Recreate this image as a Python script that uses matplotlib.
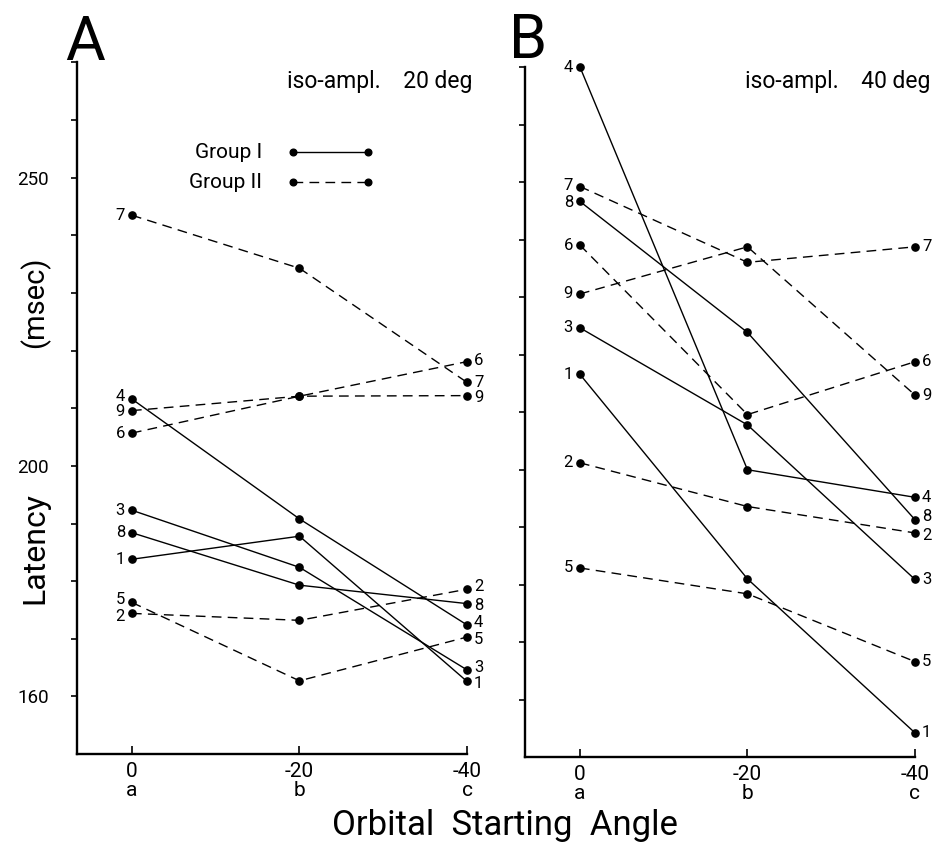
import matplotlib.pyplot as plt

plt.rcParams['font.family'] = ['Roboto', 'DejaVu Sans']

# starting angle (deg) and position code
angle_labels = ['0\na', '-20\nb', '-40\nc']
x_pos = [0, 1, 2]

subjects = ['1', '2', '3', '4', '5', '6', '7', '8', '9']
groups = ['I', 'II', 'I', 'I', 'II', 'II', 'II', 'I', 'II']

# latency (msec) per subject at a, b, c -- iso-amplitude 20 deg
lat_20deg = [
    [183.8, 187.8, 162.6],
    [174.4, 173.2, 178.6],
    [192.3, 182.4, 164.6],
    [211.6, 190.8, 172.4],
    [176.3, 162.7, 170.3],
    [205.7, 212.1, 218.1],
    [243.5, 234.3, 214.5],
    [188.4, 179.3, 176.1],
    [209.6, 212.1, 212.2],
]

# latency (msec) per subject at a, b, c -- iso-amplitude 40 deg
lat_40deg = [
    [216.6, 181.0, 154.2],
    [201.2, 193.6, 189.0],
    [224.7, 207.8, 180.9],
    [270.1, 200.0, 195.2],
    [182.9, 178.4, 166.6],
    [239.1, 209.6, 218.8],
    [249.3, 236.1, 238.8],
    [246.7, 223.9, 191.3],
    [230.6, 238.8, 213.0],
]

y_ticks = [160, 170, 180, 190, 200, 210, 220, 230, 240, 250, 260, 270.1]
y_labeled = [160, 200, 250]

# small vertical nudges (points) for crowded subject numbers: (start, end)
nudge_20deg = {'4': (1.5, 2), '9': (-1, -1), '2': (-2, 2), '5': (2, -2), '6': (0, 1),
               '3': (0, 1.5), '1': (0, -1.5), '8': (0, -1.5)}
nudge_40deg = {'7': (1, 0), '8': (-1, 2), '2': (0, -2)}

W, H = 948, 842
DASH = (0, (7, 4.5))


def fx(px):
    return px / W


def fy(py):
    return 1 - py / H


def draw_panel(ax, lat, nudge, show_ylabels):
    for subj, grp, vals in zip(subjects, groups, lat):
        ls = '-' if grp == 'I' else DASH
        dy0, dy1 = nudge.get(subj, (0, 0))
        ax.plot(x_pos, vals, color='black', lw=1.0, ls=ls, marker='o', ms=5.2, clip_on=False)
        ax.annotate(subj, (x_pos[0], vals[0]), xytext=(-5, dy0), textcoords='offset points',
                    ha='right', va='center', fontsize=12, annotation_clip=False)
        ax.annotate(subj, (x_pos[-1], vals[-1]), xytext=(5, dy1), textcoords='offset points',
                    ha='left', va='center', fontsize=12, annotation_clip=False)

    ax.set_xlim(-0.328, 2.0)
    ax.set_ylim(150, 270.1)
    for s in ['top', 'right']:
        ax.spines[s].set_visible(False)
    for s in ['left', 'bottom']:
        ax.spines[s].set_linewidth(1.7)

    ax.set_xticks(x_pos)
    ax.set_xticklabels(angle_labels, fontsize=15, linespacing=0.95)
    ax.tick_params(axis='x', direction='in', length=6, width=1.2, pad=6)

    ax.set_yticks(y_ticks)
    if show_ylabels:
        ax.set_yticklabels([str(t) if t in y_labeled else '' for t in y_ticks], fontsize=13.5)
    else:
        ax.set_yticklabels([''] * len(y_ticks))
    ax.tick_params(axis='y', direction='out', length=4, width=1.2, pad=16)


fig = plt.figure(figsize=(9.48, 8.42), dpi=100)
ax_a = fig.add_axes([fx(77), 88 / H, 390 / W, 692 / H])
ax_b = fig.add_axes([fx(525), 85 / H, 390 / W, 690 / H])

draw_panel(ax_a, lat_20deg, nudge_20deg, True)
draw_panel(ax_b, lat_40deg, nudge_40deg, False)

# panel letters and condition
fig.text(fx(85), fy(60), 'A', fontsize=44, ha='center', va='baseline')
fig.text(fx(528), fy(58), 'B', fontsize=44, ha='center', va='baseline')
fig.text(fx(472), fy(88), 'iso-ampl.    20 deg', fontsize=16.5, ha='right', va='baseline')
fig.text(fx(930), fy(88), 'iso-ampl.    40 deg', fontsize=16.5, ha='right', va='baseline')

# legend
for label, ls, ypx in [('Group I', '-', 152), ('Group II', DASH, 182)]:
    fig.text(fx(262), fy(ypx), label, fontsize=15, ha='right', va='center')
    ax_a.plot([fx(293), fx(368)], [fy(ypx), fy(ypx)], transform=fig.transFigure,
              color='black', lw=1.0, ls=ls, marker='o', ms=4.8, clip_on=False)

# axis titles
fig.text(fx(35), fy(302), '(msec)', fontsize=21, rotation=90, ha='center', va='center')
fig.text(fx(35), fy(548), 'Latency', fontsize=23, rotation=90, ha='center', va='center')
fig.text(fx(505), fy(835), 'Orbital  Starting  Angle', fontsize=25, ha='center', va='baseline')

fig.savefig('out.png', dpi=100)
